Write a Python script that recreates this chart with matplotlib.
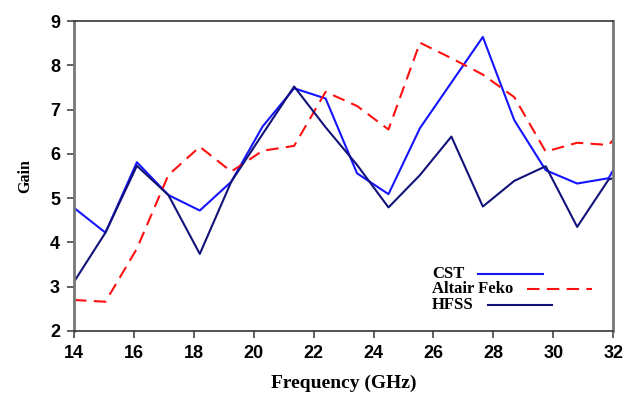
import matplotlib
matplotlib.use("Agg")
import matplotlib.pyplot as plt
from matplotlib.lines import Line2D

freq = [14, 15.05, 16.1, 17.15, 18.2, 19.25, 20.3, 21.35, 22.4, 23.45,
        24.5, 25.55, 26.6, 27.65, 28.7, 29.75, 30.8, 31.85, 32.0]
cst = [4.78, 4.22, 5.81, 5.07, 4.72, 5.37, 6.62, 7.48, 7.25, 5.56,
       5.09, 6.58, 7.61, 8.64, 6.76, 5.63, 5.33, 5.45, 5.63]
feko = [2.70, 2.66, 3.86, 5.52, 6.16, 5.60, 6.07, 6.18, 7.40, 7.08,
        6.55, 8.51, 8.16, 7.79, 7.28, 6.05, 6.25, 6.20, 6.31]
hfss = [3.11, 4.22, 5.73, 5.07, 3.74, 5.37, 6.45, 7.52, 6.60, 5.75,
        4.79, 5.52, 6.39, 4.81, 5.39, 5.72, 4.35, 5.42, 5.45]

labels = ["CST", "Altair Feko", "HFSS"]
colors = ["#1414ff", "#ff1010", "#12127a"]
styles = ["-", (0, (6, 3.5)), "-"]

xticks = [14, 16, 18, 20, 22, 24, 26, 28, 30, 32]
yticks = [2, 3, 4, 5, 6, 7, 8, 9]

fig = plt.figure(figsize=(6.25, 3.94), dpi=100)
ax = fig.add_axes([0.1184, 0.160, 0.8626, 0.7867])

for ys, lab, c, ls in zip([cst, feko, hfss], labels, colors, styles):
    ax.plot(freq, ys, color=c, lw=1.5, ls=ls, label=lab)

ax.set_xlim(14, 32)
ax.set_ylim(2, 9)
ax.set_xticks(xticks)
ax.set_yticks(yticks)
tickfont = dict(family="Liberation Sans", weight="bold", size=13)
ax.set_xticklabels([str(t) for t in xticks], fontdict=tickfont)
ax.set_yticklabels([str(t) for t in yticks], fontdict=tickfont)
ax.tick_params(direction="out", length=5, width=1.2, color="#444444", pad=5)

for side in ["left", "right"]:
    ax.spines[side].set_color("#777777")
    ax.spines[side].set_linewidth(2.0)
for side in ["top", "bottom"]:
    ax.spines[side].set_color("#333333")
    ax.spines[side].set_linewidth(1.2)

ax.set_xlabel("Frequency (GHz)", family="Liberation Serif", weight="bold", size=14, labelpad=9)
ax.set_ylabel("Gain", family="Liberation Serif", weight="bold", size=11.5, labelpad=12)

# custom legend: text followed directly by its line sample
fig.canvas.draw()
renderer = fig.canvas.get_renderer()
row_y = [0.184, 0.134, 0.084]
x0 = 0.664
gap = 0.026
seg = 0.12
for lab, c, ls, yy in zip(labels, colors, styles, row_y):
    t = ax.text(x0, yy, lab, transform=ax.transAxes, ha="left", va="center",
                family="Liberation Serif", weight="bold", size=12)
    bb = t.get_window_extent(renderer).transformed(ax.transAxes.inverted())
    xs = bb.x1 + gap
    ax.add_line(Line2D([xs, xs + seg], [yy, yy], transform=ax.transAxes,
                       color=c, lw=1.5, ls=ls, clip_on=False))

fig.savefig("out.png", dpi=100)
